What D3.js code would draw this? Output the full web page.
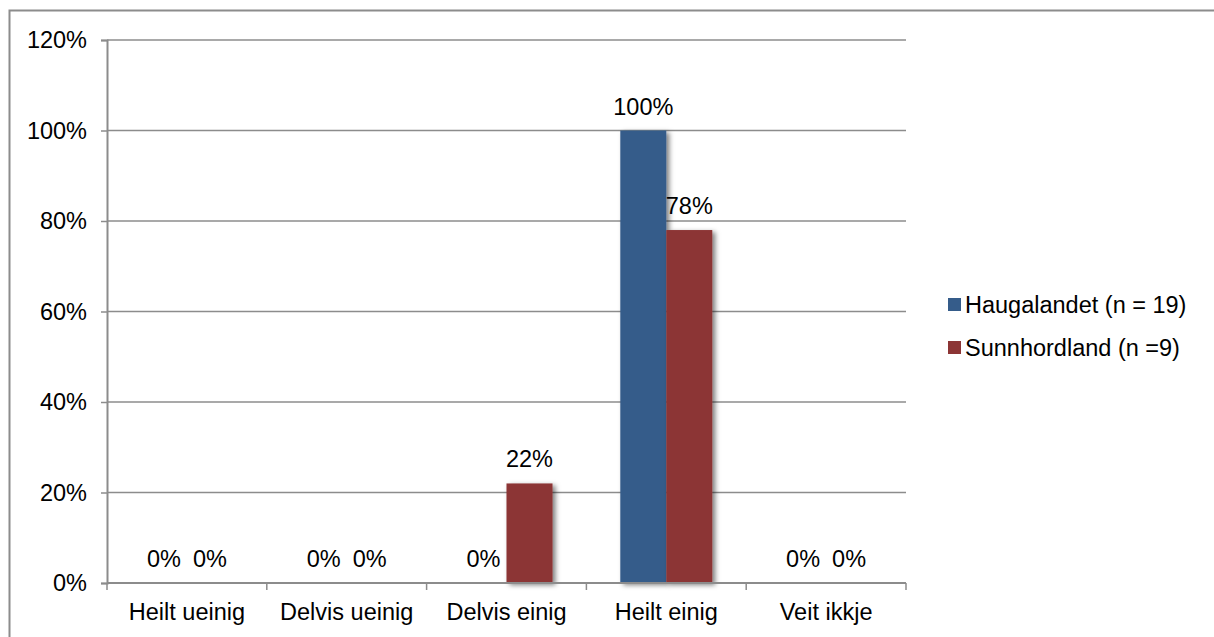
<!DOCTYPE html>
<html>
<head>
<meta charset="utf-8">
<script src="https://cdn.jsdelivr.net/npm/d3@7"></script>
<style>
  body { margin: 0; background: #fff; }
  text { font-family: "Liberation Sans", Arial, sans-serif; fill: #000; }
</style>
</head>
<body>
<div id="chart"></div>
<script>
// data
var categories = ['Heilt ueinig', 'Delvis ueinig', 'Delvis einig', 'Heilt einig', 'Veit ikkje'];
var seriesNames = ['Haugalandet (n = 19)', 'Sunnhordland (n =9)'];
var haugalandet = [0, 0, 0, 100, 0];
var sunnhordland = [0, 0, 22, 78, 0];
var yTicks = [0, 20, 40, 60, 80, 100, 120];
var colors = ['#355C8A', '#8C3535'];

var fontSize = '23.5px';
var svgWidth = 1214, svgHeight = 637;
var margin = { top: 40, left: 107, right: 1214 - 906, bottom: 637 - 583 };
var width = svgWidth - margin.left - margin.right;
var height = svgHeight - margin.top - margin.bottom;

var svg = d3.select('#chart').append('svg')
  .attr('width', svgWidth)
  .attr('height', svgHeight);

// drop shadow for the bars
var defs = svg.append('defs');
defs.append('filter')
  .attr('id', 'shadow')
  .attr('x', '-20%').attr('y', '-20%')
  .attr('width', '150%').attr('height', '150%')
  .append('feDropShadow')
  .attr('dx', 3).attr('dy', 2)
  .attr('stdDeviation', 2.5)
  .attr('flood-color', '#000')
  .attr('flood-opacity', 0.5);

// outer frame, runs off the right and bottom edges
svg.append('rect')
  .attr('x', 9.5).attr('y', 10.5)
  .attr('width', 1214).attr('height', 637)
  .attr('fill', 'none')
  .attr('stroke', '#8c8c8c')
  .attr('stroke-width', 2);

var chart = svg.append('g')
  .attr('transform', `translate(${margin.left}, ${margin.top})`);

var x0 = d3.scaleBand().domain(categories).range([0, width]);
var y = d3.scaleLinear().domain([0, 120]).range([height, 0]);
var barW = 46;
var x1 = d3.scaleBand().domain([0, 1])
  .range([x0.bandwidth() / 2 - barW, x0.bandwidth() / 2 + barW]);

// gridlines
chart.append('g')
  .selectAll('line')
  .data(yTicks.slice(1))
  .enter()
  .append('line')
  .attr('x1', 0).attr('x2', width)
  .attr('y1', d => y(d)).attr('y2', d => y(d))
  .attr('stroke', '#8c8c8c')
  .attr('stroke-width', 1.5);

// bars
var rows = categories.map((c, i) => ({ cat: c, vals: [haugalandet[i], sunnhordland[i]] }));
var groups = chart.selectAll('.cat')
  .data(rows)
  .enter()
  .append('g')
  .attr('transform', d => `translate(${x0(d.cat)},0)`);

groups.selectAll('rect')
  .data(d => d.vals.map((v, s) => ({ v: v, s: s })))
  .enter()
  .append('rect')
  .filter(d => d.v > 0)
  .attr('x', d => x1(d.s))
  .attr('y', d => y(d.v))
  .attr('width', x1.bandwidth())
  .attr('height', d => height - y(d.v))
  .attr('fill', d => colors[d.s])
  .attr('filter', 'url(#shadow)');

groups.selectAll('text')
  .data(d => d.vals.map((v, s) => ({ v: v, s: s })))
  .enter()
  .append('text')
  .attr('x', d => x1(d.s) + x1.bandwidth() / 2)
  .attr('y', d => y(d.v) - 16)
  .attr('text-anchor', 'middle')
  .style('font-size', fontSize)
  .text(d => d.v + '%');

// axes
var leftAxis = d3.axisLeft(y).tickValues(yTicks).tickSize(6).tickPadding(14)
  .tickFormat(d => d + '%');
var yAx = chart.append('g').call(leftAxis);
yAx.select('.domain').attr('stroke', '#8c8c8c').attr('stroke-width', 2);
yAx.selectAll('.tick line').attr('stroke', '#8c8c8c').attr('stroke-width', 1.5);
yAx.selectAll('text').style('font-size', fontSize).style('font-family', '"Liberation Sans", Arial, sans-serif');

var xAx = chart.append('g').attr('transform', `translate(0,${height})`);
xAx.append('line')
  .attr('x1', 0).attr('x2', width)
  .attr('stroke', '#8c8c8c').attr('stroke-width', 2);
xAx.selectAll('.tk')
  .data(categories.map(c => x0(c)).concat([width]))
  .enter()
  .append('line')
  .attr('x1', d => d).attr('x2', d => d)
  .attr('y1', 0).attr('y2', 7)
  .attr('stroke', '#8c8c8c').attr('stroke-width', 1.5);
xAx.selectAll('.lbl')
  .data(categories)
  .enter()
  .append('text')
  .attr('x', d => x0(d) + x0.bandwidth() / 2)
  .attr('y', 37)
  .attr('text-anchor', 'middle')
  .style('font-size', fontSize)
  .text(d => d);

// legend
var legend = svg.append('g').attr('transform', 'translate(948, 313)');
seriesNames.forEach(function(name, i) {
  var g = legend.append('g').attr('transform', `translate(0, ${i * 43})`);
  g.append('rect')
    .attr('x', 0).attr('y', -15)
    .attr('width', 13).attr('height', 13)
    .attr('fill', colors[i]);
  g.append('text')
    .attr('x', 17).attr('y', 0)
    .style('font-size', fontSize)
    .text(name);
});
</script>
</body>
</html>
